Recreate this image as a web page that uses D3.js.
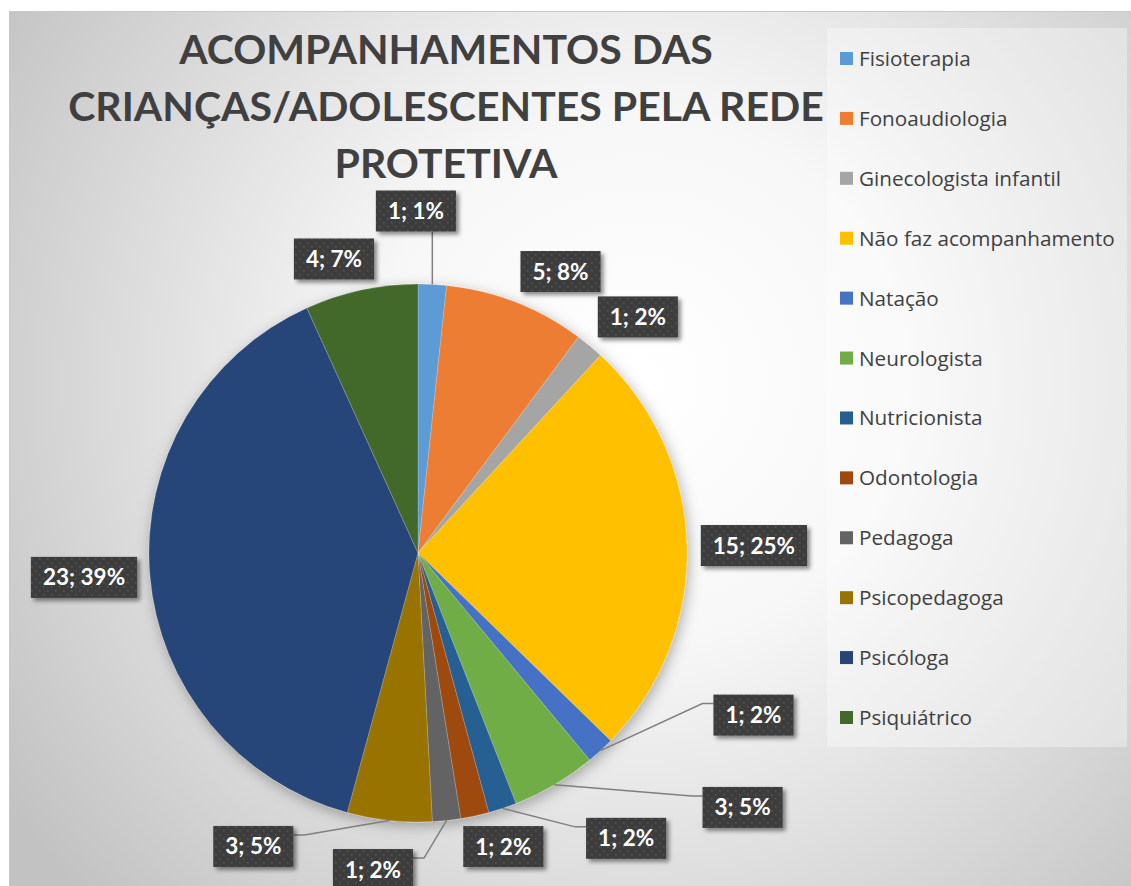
<!DOCTYPE html>
<html>
<head>
<meta charset="utf-8">
<script src="https://cdn.jsdelivr.net/npm/d3@7"></script>
<style>
	body { margin: 0; background: #ffffff; }
	#chart-area { width: 1131px; height: 886px; }
</style>
</head>
<body>
<div id="chart-area"></div>
<script>

// chart data
let titleLines = ["ACOMPANHAMENTOS DAS", "CRIANÇAS/ADOLESCENTES PELA REDE", "PROTETIVA"];

let categories = ["Fisioterapia", "Fonoaudiologia", "Ginecologista infantil", "Não faz acompanhamento",
	"Natação", "Neurologista", "Nutricionista", "Odontologia", "Pedagoga", "Psicopedagoga",
	"Psicóloga", "Psiquiátrico"];

let values = [1, 5, 1, 15, 1, 3, 1, 1, 1, 3, 23, 4];

let percentLabels = ["1%", "8%", "2%", "25%", "2%", "5%", "2%", "2%", "2%", "5%", "39%", "7%"];

let colours = ["#5B9BD5", "#ED7D31", "#A5A5A5", "#FFC000", "#4472C4", "#70AD47",
	"#255E91", "#9E480E", "#636363", "#997300", "#264478", "#43682B"];

// label placement (degrees shifted from the slice middle, distance from the centre)
let labelShift = [-3.4, 5.5, 3.3, 0.25, -21.5, -21.4, -17.8, -4.0, 14.2, 23.2, 0.4, -3.75];
let labelRadius = [342, 315.5, 322.6, 336, 372.6, 412.4, 353.2, 305.7, 319.7, 336.5, 334.9, 305.8];


class PieChart {

	constructor(parentElement) {
		this.parentElement = parentElement;
		this.displayData = [];
	}

	/*
	 * static content: background, title, legend
	 */
	initVis() {
		let vis = this;

		vis.width = 1131;
		vis.height = 886;
		vis.radius = 269;
		vis.cx = 418;
		vis.cy = 553;

		vis.svg = d3.select("#" + vis.parentElement).append("svg")
			.attr("width", vis.width)
			.attr("height", vis.height);

		let defs = vis.svg.append("defs");

		let bg = defs.append("radialGradient")
			.attr("id", "bg-grad")
			.attr("gradientUnits", "userSpaceOnUse")
			.attr("cx", 640).attr("cy", 380).attr("r", 760);
		bg.append("stop").attr("offset", "0").attr("stop-color", "#ffffff");
		bg.append("stop").attr("offset", "0.35").attr("stop-color", "#f7f7f7");
		bg.append("stop").attr("offset", "1").attr("stop-color", "#c2c2c2");

		// dotted fill of the data labels
		let pat = defs.append("pattern")
			.attr("id", "dots")
			.attr("patternUnits", "userSpaceOnUse")
			.attr("width", 8).attr("height", 8);
		pat.append("rect").attr("width", 8).attr("height", 8).attr("fill", "#3d3d3d");
		pat.append("rect").attr("x", 1).attr("y", 1).attr("width", 1.5).attr("height", 1.5).attr("fill", "#575757");
		pat.append("rect").attr("x", 5).attr("y", 5).attr("width", 1.5).attr("height", 1.5).attr("fill", "#575757");

		let pieShadow = defs.append("filter").attr("id", "pie-shadow")
			.attr("x", "-20%").attr("y", "-20%").attr("width", "140%").attr("height", "140%");
		pieShadow.append("feDropShadow")
			.attr("dx", 2).attr("dy", 4).attr("stdDeviation", 7)
			.attr("flood-color", "#000").attr("flood-opacity", 0.3);

		let boxShadow = defs.append("filter").attr("id", "box-shadow")
			.attr("x", "-20%").attr("y", "-20%").attr("width", "150%").attr("height", "160%");
		boxShadow.append("feDropShadow")
			.attr("dx", 3).attr("dy", 3).attr("stdDeviation", 2)
			.attr("flood-color", "#000").attr("flood-opacity", 0.45);

		// chart area
		vis.svg.append("rect")
			.attr("x", 9.5).attr("y", 11.5)
			.attr("width", vis.width + 10).attr("height", vis.height + 10)
			.attr("fill", "url(#bg-grad)")
			.attr("stroke", "#c8c8c8")
			.attr("stroke-width", 1);

		// title
		vis.svg.append("g")
			.attr("class", "title")
			.selectAll("text")
			.data(titleLines)
			.enter().append("text")
			.attr("x", 446)
			.attr("y", (d, i) => 64 + i * 57)
			.attr("text-anchor", "middle")
			.attr("font-family", "Lato, sans-serif")
			.attr("font-weight", "bold")
			.attr("font-size", 41)
			.attr("fill", "#404040")
			.text(d => d);

		// legend
		vis.legend = vis.svg.append("g").attr("class", "legend");

		vis.legend.append("rect")
			.attr("x", 827).attr("y", 28)
			.attr("width", 300).attr("height", 719)
			.attr("fill", "#ffffff")
			.attr("fill-opacity", 0.35);

		vis.legendY = d3.scalePoint()
			.domain(categories)
			.range([59, 718]);

		vis.colour = d3.scaleOrdinal()
			.domain(categories)
			.range(colours);

		let item = vis.legend.selectAll(".legend-item")
			.data(categories)
			.enter().append("g")
			.attr("class", "legend-item")
			.attr("transform", d => "translate(840," + vis.legendY(d) + ")");

		item.append("rect")
			.attr("x", 0).attr("y", -7)
			.attr("width", 13).attr("height", 13)
			.attr("fill", d => vis.colour(d));

		item.append("text")
			.attr("x", 19).attr("y", 7)
			.attr("font-family", "'Open Sans', sans-serif")
			.attr("font-size", 20.7)
			.attr("fill", "#404040")
			.text(d => d);

		vis.pieG = vis.svg.append("g")
			.attr("transform", "translate(" + vis.cx + "," + vis.cy + ")");

		vis.wrangleData();
	}

	/*
	 * Data wrangling
	 */
	wrangleData() {
		let vis = this;

		vis.displayData = categories.map((c, i) => ({
			name: c,
			value: values[i],
			label: values[i] + "; " + percentLabels[i],
			shift: labelShift[i],
			labelR: labelRadius[i]
		}));

		vis.updateVis();
	}

	/*
	 * draw slices, leader lines and data labels
	 */
	updateVis() {
		let vis = this;

		let pie = d3.pie()
			.sort(null)
			.value(d => d.value);

		let arc = d3.arc()
			.innerRadius(0)
			.outerRadius(vis.radius);

		let arcs = pie(vis.displayData);

		vis.pieG.append("g")
			.attr("filter", "url(#pie-shadow)")
			.selectAll("path")
			.data(arcs)
			.enter().append("path")
			.attr("d", arc)
			.attr("fill", d => vis.colour(d.data.name))
			.attr("stroke", "#ffffff")
			.attr("stroke-opacity", 0.3)
			.attr("stroke-width", 0.6);

		let toRad = Math.PI / 180;

		// label boxes
		let labels = vis.pieG.append("g").attr("class", "labels")
			.selectAll("g")
			.data(arcs)
			.enter().append("g");

		labels.each(function (d) {
			let g = d3.select(this);
			let mid = (d.startAngle + d.endAngle) / 2;
			let a = mid + d.data.shift * toRad;
			let lx = Math.sin(a) * d.data.labelR;
			let ly = -Math.cos(a) * d.data.labelR;

			let txt = g.append("text")
				.attr("x", lx)
				.attr("y", ly + 8)
				.attr("text-anchor", "middle")
				.attr("font-family", "Lato, sans-serif")
				.attr("font-weight", "bold")
				.attr("font-size", 22.5)
				.attr("fill", "#ffffff")
				.text(d.data.label);

			let w = txt.node().getComputedTextLength() + 24;
			let h = 41;
			let box = {x0: lx - w / 2, x1: lx + w / 2, y0: ly - h / 2, y1: ly + h / 2};

			g.insert("rect", "text")
				.attr("x", box.x0).attr("y", box.y0)
				.attr("width", w).attr("height", h)
				.attr("fill", "url(#dots)")
				.attr("filter", "url(#box-shadow)");

			// leader line when the label sits away from its slice
			let px = Math.sin(mid) * vis.radius;
			let py = -Math.cos(mid) * vis.radius;
			let ddx = Math.max(box.x0 - px, 0, px - box.x1);
			let ddy = Math.max(box.y0 - py, 0, py - box.y1);
			if (Math.hypot(ddx, ddy) > 20) {
				let pts;
				if (px >= box.x0 && px <= box.x1) {
					pts = [[px, py], [px, py > box.y1 ? box.y1 : box.y0]];
				} else if (box.x0 > px) {
					pts = [[px, py], [box.x0 - 11, box.y0 + 9], [box.x0, box.y0 + 9]];
				} else {
					pts = [[px, py], [box.x1 + 11, box.y0 + 9], [box.x1, box.y0 + 9]];
				}
				g.insert("path", "rect")
					.attr("d", d3.line()(pts))
					.attr("fill", "none")
					.attr("stroke", "#7f7f7f")
					.attr("stroke-width", 1.5);
			}
		});
	}
}

let pieChart = new PieChart("chart-area");
pieChart.initVis();

</script>
</body>
</html>
